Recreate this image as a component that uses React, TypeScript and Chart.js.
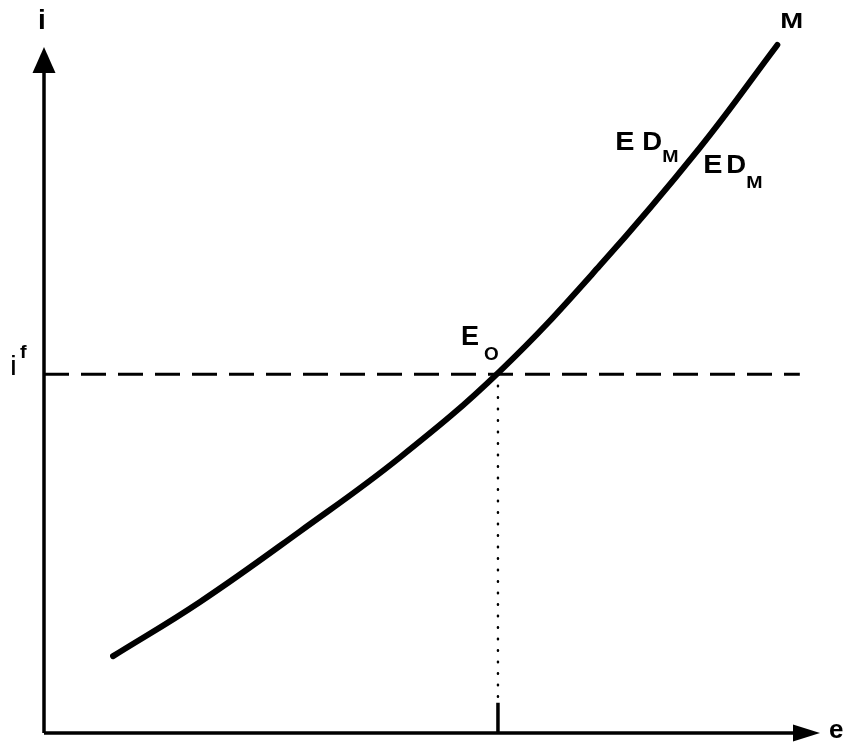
import React, { useEffect, useRef } from "react";
import { Chart, registerables } from "chart.js";

Chart.register(...registerables);

// Curve M: exchange rate e (x) vs interest rate i (y), in arbitrary units 0..100
const eValues = [8.9, 20.1, 33.0, 45.9, 58.8, 71.6, 84.5, 94.5];
const iValues = [11.2, 19.1, 29.4, 40.2, 52.8, 68.1, 85.3, 100.3];
const iForeign = 52.3; // i^f level
const eEquilibrium = 58.5; // E0 exchange rate
const dashEnd = 97.4; // where the dashed i^f line stops
const tickTop = 4.4; // top of the solid tick on the e axis
const axisMax = 100;
const labelAnchor = { e: 79.8, i: 79.2 }; // point on M where the ED_M labels sit

const curveData = eValues.map((e, k) => ({ x: e, y: iValues[k] }));

function drawText(
  ctx: CanvasRenderingContext2D,
  s: string,
  px: number,
  py: number,
  size: number,
  weight: string,
  sx: number
) {
  ctx.save();
  ctx.translate(px, py);
  ctx.scale(sx, 1);
  ctx.font = `${weight} ${size}px "Liberation Sans", Arial, sans-serif`;
  ctx.textAlign = "left";
  ctx.textBaseline = "alphabetic";
  ctx.fillStyle = "#000";
  ctx.fillText(s, 0, 0);
  ctx.restore();
}

const overlay = {
  id: "overlay",
  afterDatasetsDraw(chart: any) {
    const ctx: CanvasRenderingContext2D = chart.ctx;
    const xs = chart.scales.x;
    const ys = chart.scales.y;
    const ox = xs.getPixelForValue(0);
    const oy = ys.getPixelForValue(0);
    const tipY = ys.getPixelForValue(axisMax);
    const tipX = xs.getPixelForValue(axisMax);
    ctx.save();
    ctx.fillStyle = "#000";
    // y-axis arrowhead
    ctx.beginPath();
    ctx.moveTo(ox, tipY);
    ctx.lineTo(ox - 11.5, tipY + 26);
    ctx.lineTo(ox + 11.5, tipY + 26);
    ctx.closePath();
    ctx.fill();
    // x-axis arrowhead
    ctx.beginPath();
    ctx.moveTo(tipX, oy);
    ctx.lineTo(tipX - 27, oy - 8.5);
    ctx.lineTo(tipX - 27, oy + 8.5);
    ctx.closePath();
    ctx.fill();
    ctx.restore();

    // axis labels
    drawText(ctx, "i", ox - 6, tipY - 18, 28, "bold", 1.0);
    drawText(ctx, "e", tipX + 9, oy + 5, 26, "bold", 1.0);

    // i^f label
    const fy = ys.getPixelForValue(iForeign);
    drawText(ctx, "i", ox - 34, fy + 1, 28, "normal", 1.1);
    drawText(ctx, "f", ox - 24, fy - 16, 18, "bold", 1.1);

    // M label at curve end
    const endX = xs.getPixelForValue(eValues[eValues.length - 1]);
    const endY = ys.getPixelForValue(iValues[iValues.length - 1]);
    drawText(ctx, "M", endX + 3, endY - 17, 22, "bold", 1.25);

    // ED_M labels
    const ax = xs.getPixelForValue(labelAnchor.e);
    const ay = ys.getPixelForValue(labelAnchor.i);
    drawText(ctx, "E", ax - 48, ay - 40, 25, "bold", 1.15);
    drawText(ctx, "D", ax - 21, ay - 40, 25, "bold", 1.1);
    drawText(ctx, "M", ax - 1, ay - 28, 17, "bold", 1.15);
    drawText(ctx, "E", ax + 40, ay - 17, 25, "bold", 1.15);
    drawText(ctx, "D", ax + 63, ay - 17, 25, "bold", 1.1);
    drawText(ctx, "M", ax + 83, ay - 2, 17, "bold", 1.15);

    // E_O label
    const ex = xs.getPixelForValue(eEquilibrium);
    drawText(ctx, "E", ex - 37, fy - 29, 27, "bold", 1.0);
    drawText(ctx, "O", ex - 14, fy - 14, 18, "bold", 1.05);
  },
};

export default function App() {
  const canvasRef = useRef<HTMLCanvasElement | null>(null);

  useEffect(() => {
    if (!canvasRef.current) return;
    const chart = new Chart(canvasRef.current, {
      type: "scatter",
      data: {
        datasets: [
          {
            label: "i-axis",
            data: [
              { x: 0, y: 0 },
              { x: 0, y: 97 },
            ],
            showLine: true,
            borderColor: "#000",
            borderWidth: 3.5,
            pointRadius: 0,
          },
          {
            label: "e-axis",
            data: [
              { x: 0, y: 0 },
              { x: 97, y: 0 },
            ],
            showLine: true,
            borderColor: "#000",
            borderWidth: 3.5,
            pointRadius: 0,
          },
          {
            label: "i^f",
            data: [
              { x: 0, y: iForeign },
              { x: dashEnd, y: iForeign },
            ],
            showLine: true,
            borderColor: "#000",
            borderWidth: 3,
            borderDash: [25, 12],
            pointRadius: 0,
          },
          {
            label: "e0 dotted",
            data: [
              { x: eEquilibrium, y: iForeign },
              { x: eEquilibrium, y: tickTop },
            ],
            showLine: true,
            borderColor: "#000",
            borderWidth: 2.5,
            borderCapStyle: "round",
            borderDash: [0.5, 11],
            pointRadius: 0,
          },
          {
            label: "e0 tick",
            data: [
              { x: eEquilibrium, y: tickTop },
              { x: eEquilibrium, y: 0 },
            ],
            showLine: true,
            borderColor: "#000",
            borderWidth: 3.5,
            pointRadius: 0,
          },
          {
            label: "M",
            data: curveData,
            showLine: true,
            borderColor: "#000",
            borderWidth: 6,
            borderCapStyle: "round",
            tension: 0.4,
            pointRadius: 0,
          },
        ],
      },
      options: {
        animation: false,
        responsive: false,
        maintainAspectRatio: false,
        layout: { padding: { left: 44, right: 29, top: 47, bottom: 12 } },
        scales: {
          x: { type: "linear", min: 0, max: axisMax, display: false },
          y: { type: "linear", min: 0, max: axisMax, display: false },
        },
        datasets: { scatter: { clip: false } as any },
        plugins: {
          legend: { display: false },
          tooltip: { enabled: false },
        },
      } as any,
      plugins: [overlay],
    });
    return () => chart.destroy();
  }, []);

  return (
    <div style={{ position: "fixed", left: 0, top: 0, width: 849, height: 745, background: "#fff" }}>
      <canvas ref={canvasRef} width={849} height={745} />
    </div>
  );
}
